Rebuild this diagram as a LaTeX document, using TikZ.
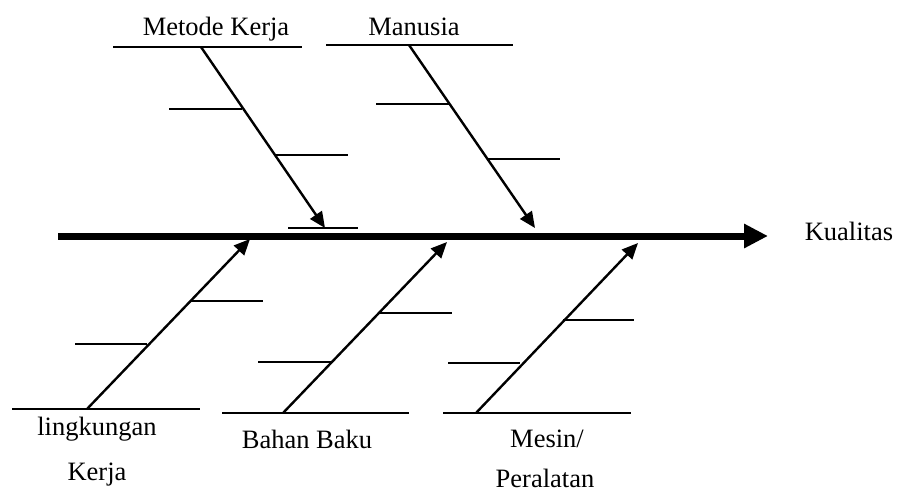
\documentclass[tikz,border=0pt]{standalone}
\usepackage{fontspec}
\setmainfont{Liberation Serif}
\usetikzlibrary{arrows.meta}
\begin{document}
\begin{tikzpicture}[x=1pt,y=-1pt,
  lbl/.style={anchor=base,inner sep=0pt,font=\fontsize{26.5}{30}\selectfont},
  rib/.style={line width=1.8pt},
  bone/.style={line width=2.4pt,-{Triangle[length=16pt,width=14pt]}},
  spine/.style={line width=7pt,-{Triangle[length=24pt,width=23pt]}}]
\useasboundingbox (0,0) rectangle (898,493);

% main spine and effect
\coordinate (s0) at (58,236);
\coordinate (s1) at (768,236);
\draw[spine] (s0) -- (s1);
\node[lbl] (kual) at (849,240) {Kualitas};

% ---- upper bone: Metode Kerja
\coordinate (mkL) at (113,47);
\coordinate (mkR) at (302,47);
\coordinate (mk0) at (201,47);
\coordinate (mk1) at (325,228);
\draw[rib] (mkL) -- (mkR);
\draw[bone] (mk0) -- (mk1);
\coordinate (mka) at (169,109); \coordinate (mkb) at (242,109);
\coordinate (mkc) at (275,155); \coordinate (mkd) at (348,155);
\coordinate (mke) at (288,228); \coordinate (mkf) at (358,228);
\draw[rib] (mka) -- (mkb);
\draw[rib] (mkc) -- (mkd);
\draw[rib] (mke) -- (mkf);
\node[lbl] (metode) at (216,35) {Metode Kerja};

% ---- upper bone: Manusia
\coordinate (maL) at (326,45);
\coordinate (maR) at (513,45);
\coordinate (ma0) at (409,45);
\coordinate (ma1) at (535,228);
\draw[rib] (maL) -- (maR);
\draw[bone] (ma0) -- (ma1);
\coordinate (maa) at (376,104); \coordinate (mab) at (449,104);
\coordinate (mac) at (488,159); \coordinate (mad) at (560,159);
\draw[rib] (maa) -- (mab);
\draw[rib] (mac) -- (mad);
\node[lbl] (manusia) at (414,35) {Manusia};

% ---- lower bone: lingkungan Kerja
\coordinate (lkL) at (12,409);
\coordinate (lkR) at (200,409);
\coordinate (lk0) at (87,409);
\coordinate (lk1) at (250,239);
\draw[rib] (lkL) -- (lkR);
\draw[bone] (lk0) -- (lk1);
\coordinate (lka) at (191,301); \coordinate (lkb) at (263,301);
\coordinate (lkc) at (75,344);  \coordinate (lkd) at (147,344);
\draw[rib] (lka) -- (lkb);
\draw[rib] (lkc) -- (lkd);
\node[lbl] (ling) at (97,435) {lingkungan};
\node[lbl] (kerja) at (97,480) {Kerja};

% ---- lower bone: Bahan Baku
\coordinate (bbL) at (222,413);
\coordinate (bbR) at (409,413);
\coordinate (bb0) at (283,413);
\coordinate (bb1) at (447,242);
\draw[rib] (bbL) -- (bbR);
\draw[bone] (bb0) -- (bb1);
\coordinate (bba) at (378,313); \coordinate (bbb) at (452,313);
\coordinate (bbc) at (258,362); \coordinate (bbd) at (331,362);
\draw[rib] (bba) -- (bbb);
\draw[rib] (bbc) -- (bbd);
\node[lbl] (bahan) at (307,448) {Bahan Baku};

% ---- lower bone: Mesin/Peralatan
\coordinate (msL) at (443,413);
\coordinate (msR) at (631,413);
\coordinate (ms0) at (476,413);
\coordinate (ms1) at (638,243);
\draw[rib] (msL) -- (msR);
\draw[bone] (ms0) -- (ms1);
\coordinate (msa) at (563,320); \coordinate (msb) at (634,320);
\coordinate (msc) at (448,363); \coordinate (msd) at (520,363);
\draw[rib] (msa) -- (msb);
\draw[rib] (msc) -- (msd);
\node[lbl] (mesin) at (547,447) {Mesin/};
\node[lbl] (peral) at (545,487) {Peralatan};
\end{tikzpicture}
\end{document}
